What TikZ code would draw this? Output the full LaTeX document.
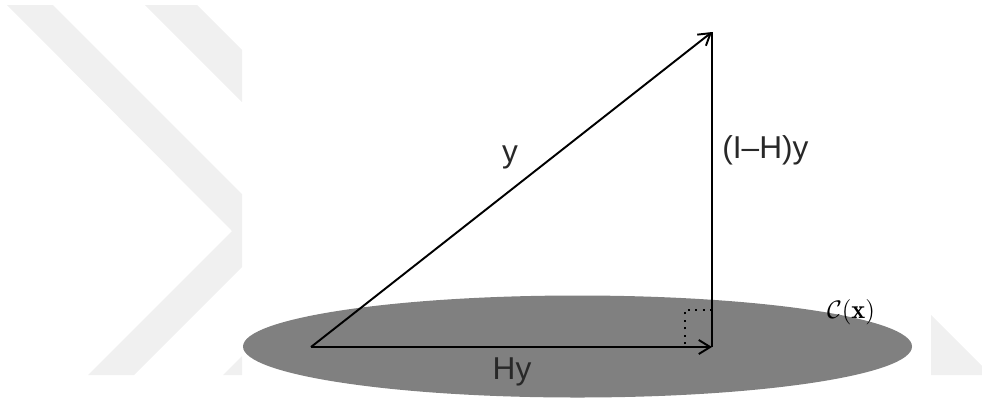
\documentclass[tikz,border=0pt]{standalone}
\usepackage{amsmath, amssymb}
\usepackage{fontspec}
\newfontfamily\labelfont{Liberation Sans}
\usepackage{tikz}
\usetikzlibrary{arrows.meta}
\definecolor{planeGray}{RGB}{128, 128, 128}
\definecolor{markGray}{RGB}{240, 240, 240}
\definecolor{labelInk}{RGB}{40, 40, 40}

\begin{document}
\begin{tikzpicture}[x=0.02cm, y=-0.02cm,
    vec/.style={line width=1.1pt, -{Straight Barb[length=6.5pt, width=8pt, line width=1.1pt]}},
    lbl/.style={text=labelInk, font=\labelfont\fontsize{18}{20}\selectfont, inner sep=0pt}]
        \useasboundingbox (0,0) rectangle (982,403);
        \fill[markGray] (7,5) -- (53,5) -- (242,194) -- (242,267) -- (134,375) -- (88,375) -- (232,231) -- cycle;
        \fill[markGray] (145,5) -- (197,5) -- (242,50) -- (242,102) -- cycle;
        \fill[markGray] (223,375) -- (242,375) -- (242,356) -- cycle;
        \fill[markGray] (931,315) -- (982,366) -- (982,375) -- (931,375) -- cycle;
        \fill[planeGray] (577.5,346.5) ellipse (334.5 and 51);
        \coordinate (orig) at (311,347);
        \coordinate (proj) at (712,347);
        \coordinate (tip) at (712,32);
        \draw[line width=0.6pt, dash pattern=on 1.2pt off 3pt] (685,344) -- (685,310) -- (712,310);
        \draw[line width=1.1pt] (proj) -- (tip);
        \draw[vec] (orig) -- (proj);
        \draw[vec] (orig) -- (tip);
        \node[lbl] (ylbl) at (510,157) {y};
        \node[lbl, anchor=west] (reslbl) at (722,150) {(I–H)y};
        \node[lbl] (hylbl) at (512,372) {Hy};
        \node[inner sep=0pt, font=\fontsize{15}{17}\selectfont] (clbl) at (851,312) {$\mathcal{C}(\mathbf{x})$};
      \end{tikzpicture}
\end{document}
